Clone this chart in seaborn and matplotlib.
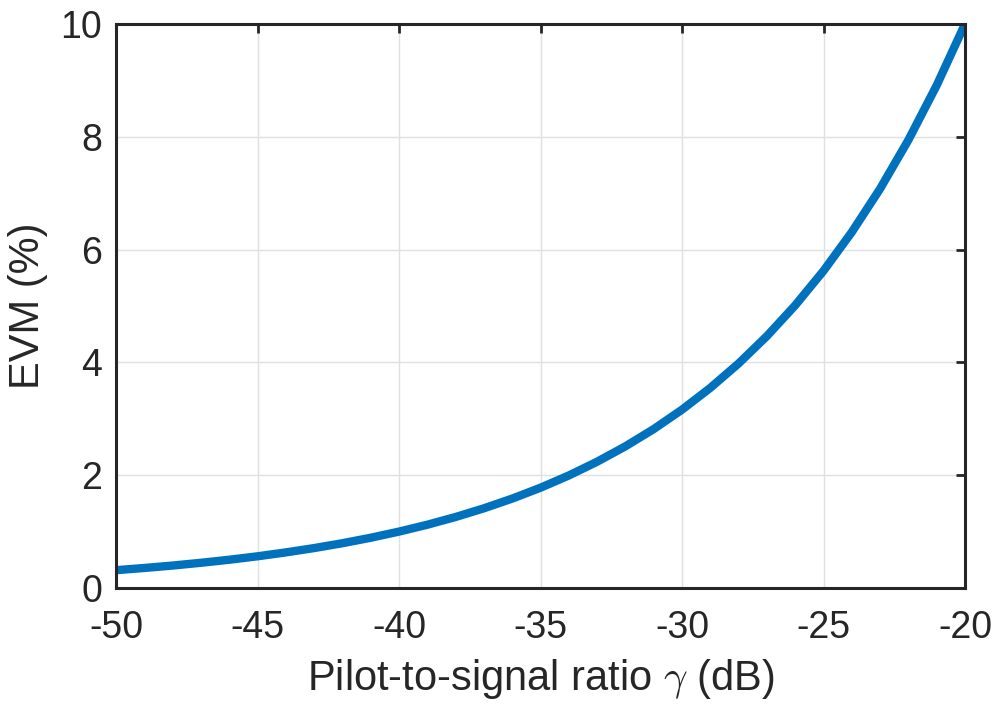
import numpy as np
import pandas as pd
import matplotlib
matplotlib.use("Agg")
import matplotlib.pyplot as plt
import seaborn as sns

# Pilot-to-signal ratio (dB) and measured EVM (%)
gamma_db = list(range(-50, -19))
evm_pct = [0.316, 0.355, 0.398, 0.447, 0.501, 0.562, 0.631, 0.708, 0.794, 0.891,
           1.000, 1.122, 1.259, 1.413, 1.585, 1.778, 1.995, 2.239, 2.512, 2.818,
           3.162, 3.548, 3.981, 4.467, 5.012, 5.623, 6.310, 7.079, 7.943, 8.913,
           10.0]
x_ticks = [-50, -45, -40, -35, -30, -25, -20]
y_ticks = [0, 2, 4, 6, 8, 10]

df = pd.DataFrame({"gamma": gamma_db, "evm": evm_pct})

sns.set_theme(style="white")
plt.rcParams["font.family"] = ["Liberation Sans", "DejaVu Sans"]
plt.rcParams["mathtext.fontset"] = "cm"

fig = plt.figure(figsize=(9.97, 7.04), dpi=100)
ax = fig.add_axes([116 / 997, 1 - 588 / 704, (965 - 116) / 997, (588 - 24) / 704])

sns.lineplot(data=df, x="gamma", y="evm", ax=ax, color="#0072BD", linewidth=6,
             solid_capstyle="butt")

ax.set_xlim(-50, -20)
ax.set_ylim(0, 10)
ax.set_xticks(x_ticks)
ax.set_yticks(y_ticks)
ax.set_xticklabels([str(t) for t in x_ticks])
ax.grid(True, color="#e0e0e0", linewidth=1)
ax.set_axisbelow(True)
for s in ax.spines.values():
    s.set_visible(True)
    s.set_color("#262626")
    s.set_linewidth(2.2)
ax.tick_params(axis="both", direction="in", length=6.5, width=2, color="#262626",
               labelsize=27, labelcolor="#262626", top=True, right=True)
ax.tick_params(axis="x", pad=16)
ax.tick_params(axis="y", pad=10)
ax.set_xlabel(r"Pilot-to-signal ratio $\gamma$ (dB)", fontsize=30, color="#262626", labelpad=8)
ax.set_ylabel("EVM (%)", fontsize=30, color="#262626", labelpad=9)

fig.savefig("out.png", dpi=100)
